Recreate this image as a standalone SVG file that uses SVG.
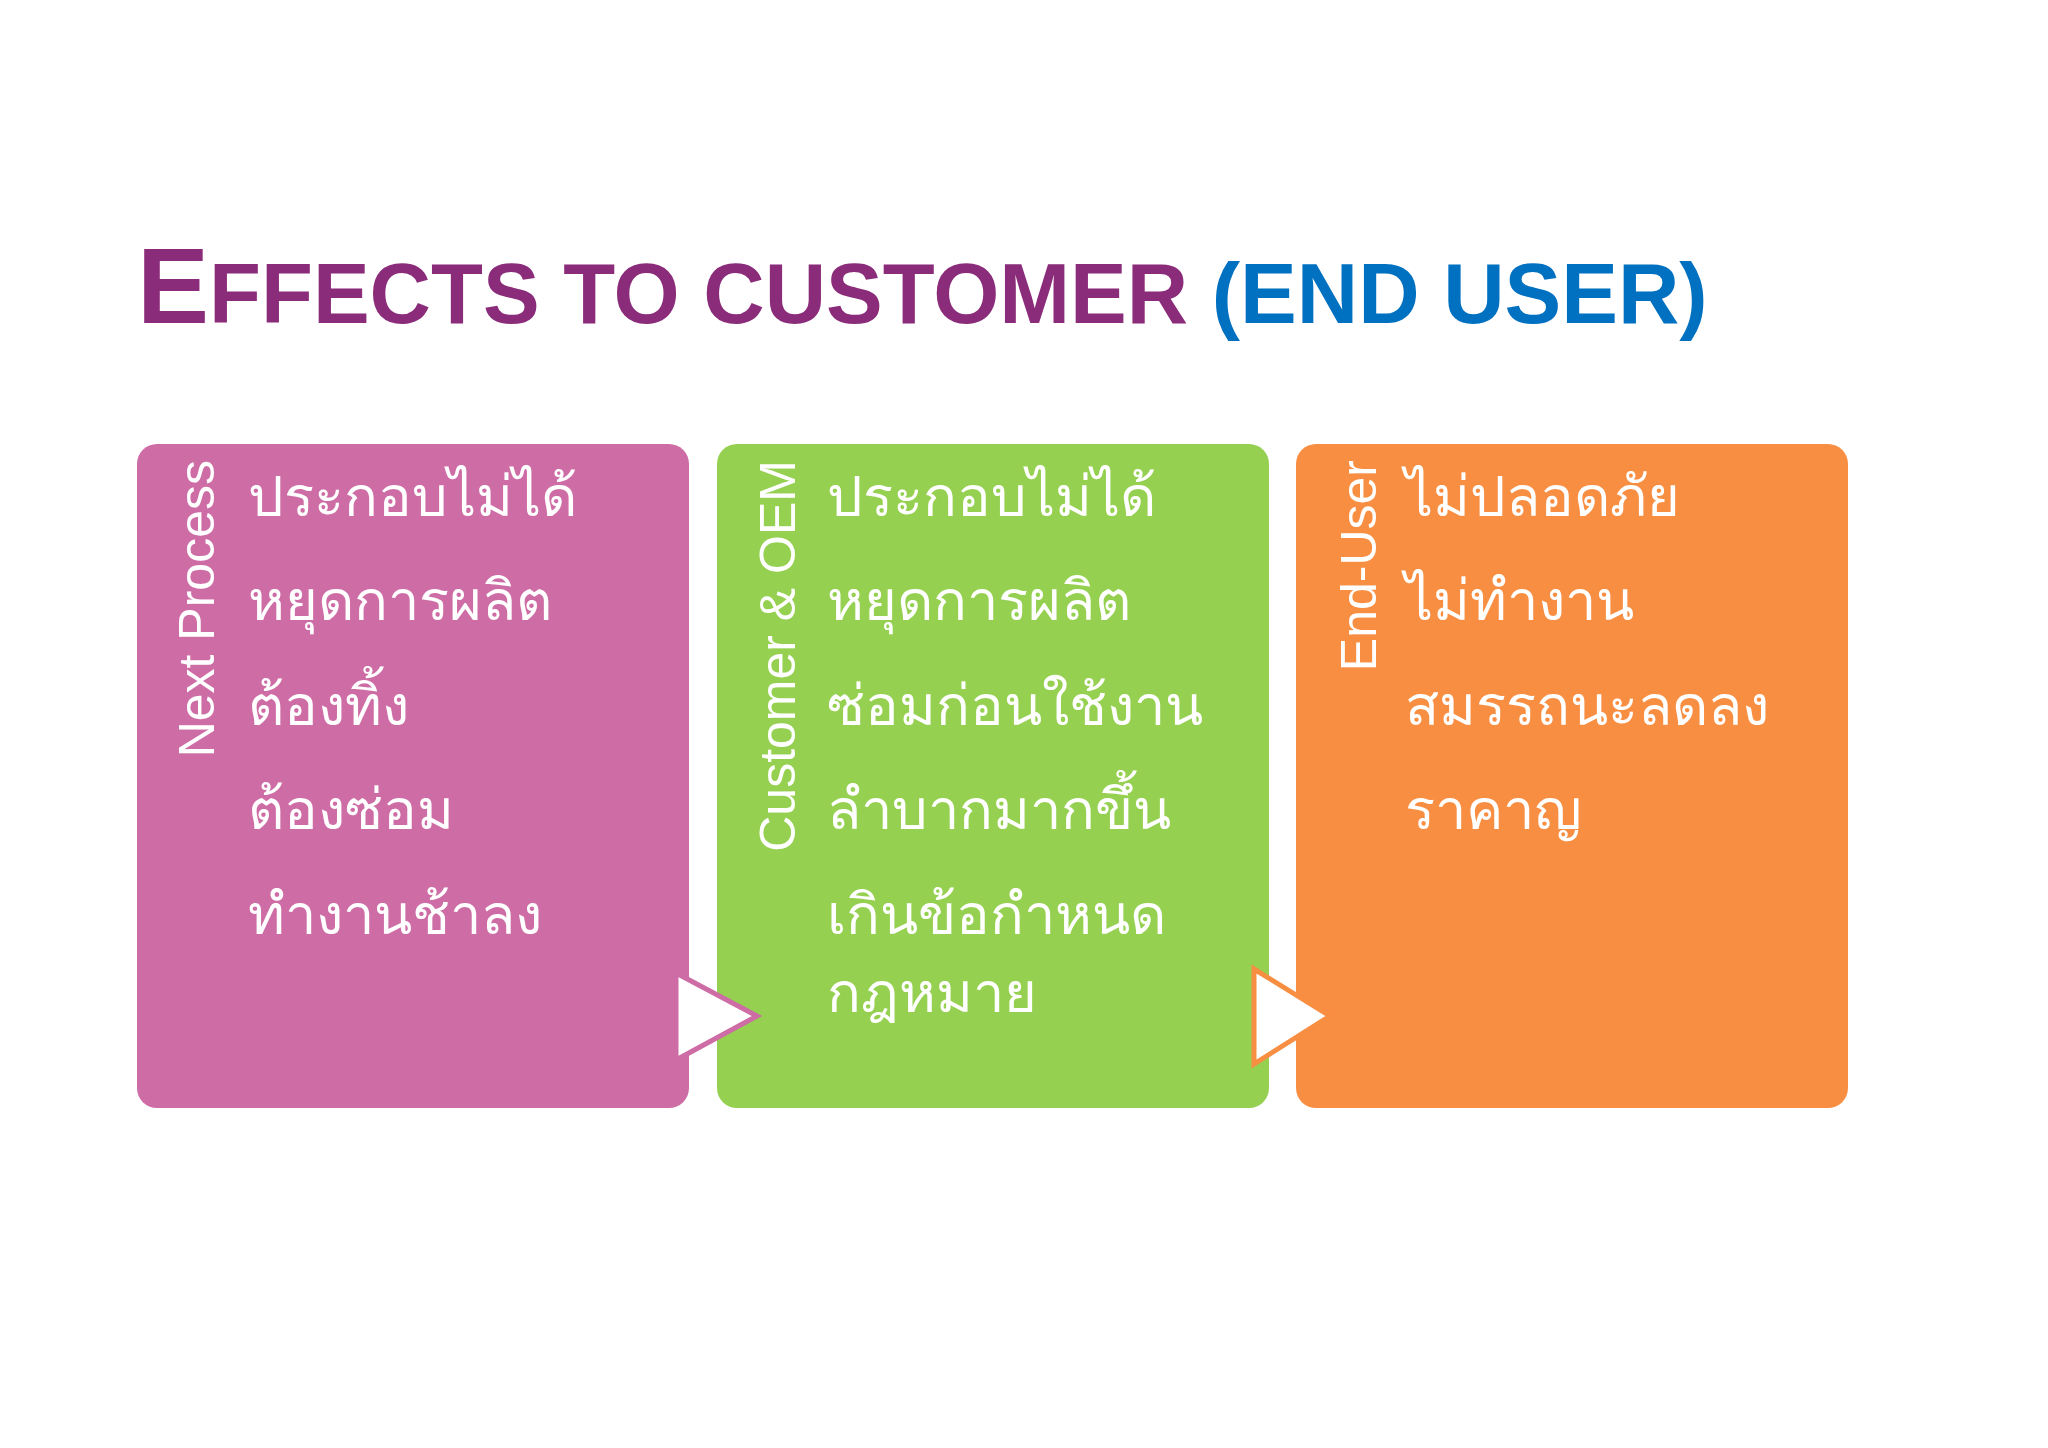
<svg xmlns="http://www.w3.org/2000/svg" width="2048" height="1448" viewBox="0 0 2048 1448">
<style>
.t{font-family:"Liberation Sans","Noto Sans",sans-serif;font-weight:bold}
.v{font-family:"Liberation Sans","Noto Sans",sans-serif;font-size:50px;fill:#fff}
.th{font-family:"Noto Sans","DejaVu Sans","Noto Sans CJK SC",sans-serif;font-size:56px;fill:#fff}
</style>
<rect width="2048" height="1448" fill="#fff"/>
<text class="t" x="137" y="323" fill="#8B2C7A" font-size="85"><tspan font-size="108">E</tspan>FFECTS TO CUSTOMER <tspan fill="#0070C0">(END USER)</tspan></text>
<g id="n1"><rect x="137" y="444" width="552" height="664" rx="20" fill="#CE6CA5"/>
<text class="v" transform="translate(214,460) rotate(-90)" text-anchor="end">Next Process</text>
<text class="th" x="248" y="516">ประกอบไม่ได้</text><text class="th" x="248" y="620">หยุดการผลิต</text><text class="th" x="248" y="725">ต้องทิ้ง</text><text class="th" x="248" y="829">ต้องซ่อม</text><text class="th" x="248" y="934">ทำงานช้าลง</text></g>
<g id="n2"><rect x="717" y="444" width="552" height="664" rx="20" fill="#95D051"/>
<text class="v" transform="translate(795,460) rotate(-90)" text-anchor="end">Customer &amp; OEM</text>
<text class="th" x="827" y="516">ประกอบไม่ได้</text><text class="th" x="827" y="620">หยุดการผลิต</text><text class="th" x="827" y="725">ซ่อมก่อนใช้งาน</text><text class="th" x="827" y="829">ลำบากมากขึ้น</text><text class="th" x="827" y="934">เกินข้อกำหนด</text><text class="th" x="827" y="1012">กฎหมาย</text></g>
<g id="n3"><rect x="1296" y="444" width="552" height="664" rx="20" fill="#F88E42"/>
<text class="v" transform="translate(1376,460) rotate(-90)" text-anchor="end">End-User</text>
<text class="th" x="1405" y="516">ไม่ปลอดภัย</text><text class="th" x="1405" y="620">ไม่ทำงาน</text><text class="th" x="1405" y="725">สมรรถนะลดลง</text><text class="th" x="1405" y="829">ราคาญ</text></g>
<g id="connectors">
<polygon points="676,973 757,1016 676,1060" fill="#fff" stroke="#CE6CA5" stroke-width="5"/>
<polygon points="1254,969 1330,1016 1254,1064" fill="#fff" stroke="#F88E42" stroke-width="5"/>
</g>
</svg>
